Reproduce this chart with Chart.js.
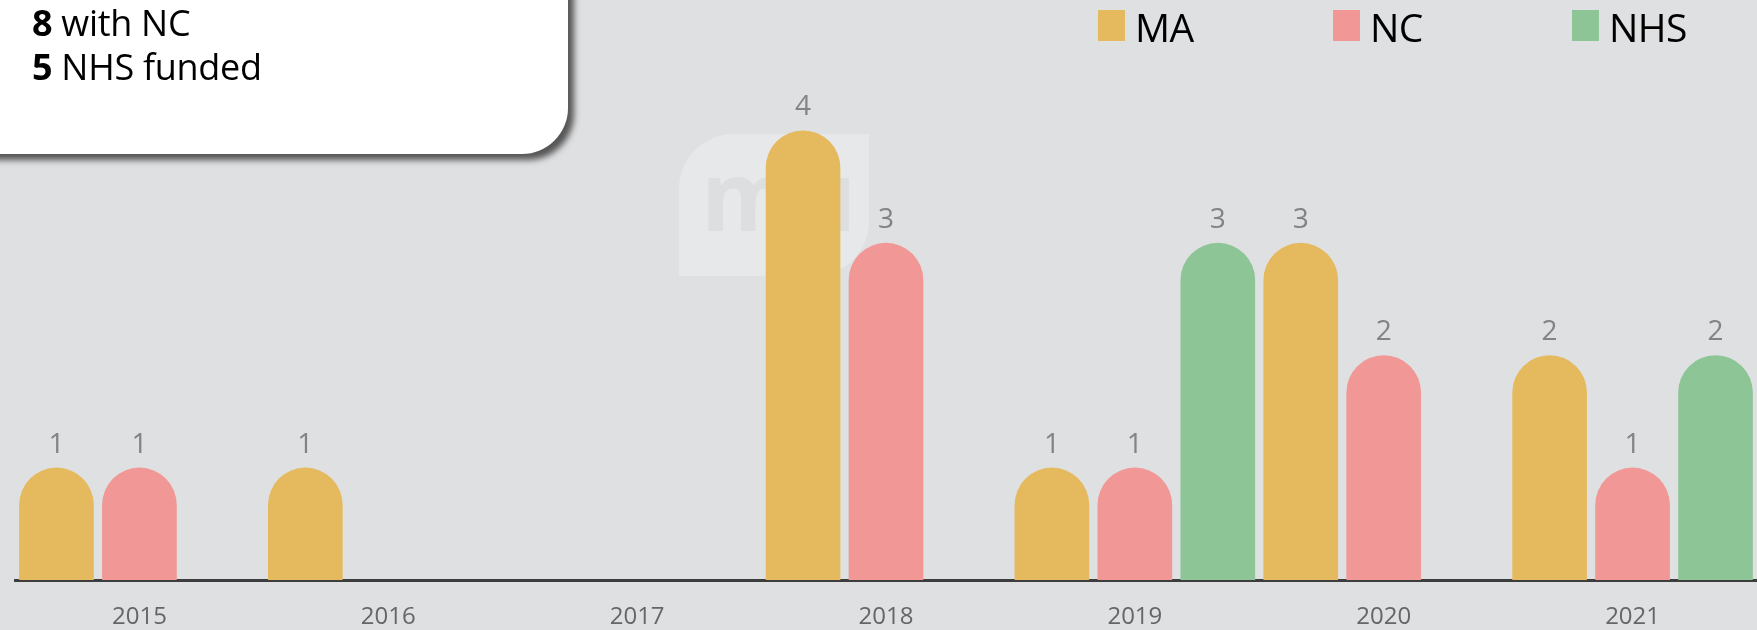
<!DOCTYPE html>
<html>
<head>
<meta charset="utf-8">
<script src="https://cdn.jsdelivr.net/npm/chart.js@4/dist/chart.umd.min.js"></script>
<style>
  html, body { margin: 0; padding: 0; }
  body { width: 1757px; height: 630px; background: #DFE0E2; position: relative; overflow: hidden; font-family: 'Open Sans', sans-serif; }
  #wm { position: absolute; left: 679px; top: 134px; width: 190px; height: 142px; background: #E7E8EA; border-radius: 55px 0 55px 0; overflow: hidden; z-index: 0; }
  #wm span { position: absolute; left: 22px; top: 12px; font-size: 96px; line-height: 96px; font-weight: 700; color: #DDDEE0; letter-spacing: -2px; }
  #chart { position: absolute; left: 0; top: 0; z-index: 1; }
  #info { position: absolute; left: -20px; top: -20px; width: 588px; height: 174px; background: #fff; border-bottom-right-radius: 46px; box-shadow: 6px 6px 6px #555; z-index: 2; }
  #info div { position: absolute; left: 52px; font-size: 36px; line-height: 44px; color: #000; white-space: nowrap; letter-spacing: -0.3px; }
  #info b { font-weight: 700; }
  .lg { position: absolute; top: 0; height: 50px; z-index: 2; }
  .lg i { position: absolute; left: 0; top: 10px; width: 27px; height: 31px; }
  .lg span { position: absolute; left: 37px; top: 7px; font-size: 39px; line-height: 39px; color: #000; white-space: nowrap; letter-spacing: -0.5px; }
</style>
</head>
<body>
<div id="wm"><span>mu</span></div>
<canvas id="chart" width="1757" height="630"></canvas>
<div id="info">
  <div style="top:21px"><b>8</b> with NC</div>
  <div style="top:65px"><b>5</b> NHS funded</div>
</div>
<div id="legend"></div>
<script>
const categories = ['2015', '2016', '2017', '2018', '2019', '2020', '2021'];
const seriesNames = ['MA', 'NC', 'NHS'];
const maValues = [1, 1, null, 4, 1, 3, 2];
const ncValues = [1, null, null, 3, 1, 2, 1];
const nhsValues = [null, null, null, null, 3, null, 2];
const seriesColors = ['#E5BA5E', '#F19795', '#8DC597'];

// HTML legend
const legendLefts = [1098, 1333, 1572];
const legend = document.getElementById('legend');
seriesNames.forEach((name, i) => {
  const d = document.createElement('div');
  d.className = 'lg';
  d.style.left = legendLefts[i] + 'px';
  const box = document.createElement('i');
  box.style.background = seriesColors[i];
  const t = document.createElement('span');
  t.textContent = name;
  d.appendChild(box); d.appendChild(t);
  legend.appendChild(d);
});

const valueLabels = {
  id: 'valueLabels',
  afterDatasetsDraw(chart) {
    const ctx = chart.ctx;
    ctx.save();
    ctx.font = '400 28px "Open Sans"';
    ctx.fillStyle = '#838383';
    ctx.textAlign = 'center';
    ctx.textBaseline = 'alphabetic';
    chart.data.datasets.forEach((ds, i) => {
      const meta = chart.getDatasetMeta(i);
      meta.data.forEach((el, j) => {
        const v = ds.data[j];
        if (v === null || v === undefined) return;
        ctx.fillText(String(v), el.x, el.y - 15);
      });
    });
    ctx.restore();
  }
};

const radius = { topLeft: 60, topRight: 60, bottomLeft: 0, bottomRight: 0 };
new Chart(document.getElementById('chart'), {
  type: 'bar',
  data: {
    labels: categories,
    datasets: [
      { label: seriesNames[0], data: maValues, backgroundColor: seriesColors[0], borderRadius: radius, borderSkipped: 'start' },
      { label: seriesNames[1], data: ncValues, backgroundColor: seriesColors[1], borderRadius: radius, borderSkipped: 'start' },
      { label: seriesNames[2], data: nhsValues, backgroundColor: seriesColors[2], borderRadius: radius, borderSkipped: 'start' }
    ]
  },
  options: {
    responsive: false,
    animation: false,
    devicePixelRatio: 1,
    layout: { padding: { left: 15, right: 0, top: 18, bottom: 0 } },
    datasets: { bar: { categoryPercentage: 1.0, barPercentage: 0.9 } },
    plugins: { legend: { display: false }, tooltip: { enabled: false } },
    scales: {
      x: {
        z: 1,
        grid: { display: false, drawTicks: false },
        border: { display: true, color: '#3d3d3d', width: 3 },
        ticks: { color: '#666666', font: { family: 'Open Sans', size: 24 }, padding: 23 },
        afterFit: (scale) => { scale.height = 50; }
      },
      y: { display: false, min: 0, max: 5 }
    }
  },
  plugins: [valueLabels]
});
</script>
</body>
</html>
